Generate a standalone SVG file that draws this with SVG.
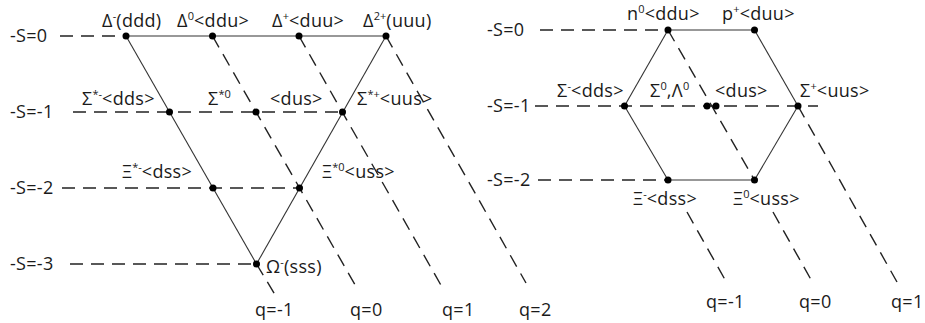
<svg xmlns="http://www.w3.org/2000/svg" width="925" height="323" viewBox="0 0 925 323">
<style>
.t{font-family:"Open Sans","Liberation Sans",sans-serif;font-size:18px;letter-spacing:0.3px;fill:#1a1a1a}
.sup{font-size:11px;baseline-shift:super;letter-spacing:0}
.s{stroke:#333;stroke-width:1.1;fill:none}
.d{stroke:#222;stroke-width:1.4;fill:none;stroke-dasharray:13 8}
.dot{fill:#000}
</style>
<rect width="925" height="323" fill="#fff"/>
<g id="connectors">
<line class="s" x1="126" y1="36" x2="386" y2="36"/>
<line class="s" x1="126" y1="36" x2="256.5" y2="264"/>
<line class="s" x1="386" y1="36" x2="256.5" y2="264"/>
<line class="d" x1="60" y1="36" x2="126" y2="36"/>
<line class="d" x1="73" y1="112" x2="342.5" y2="112"/>
<line class="d" x1="62" y1="188" x2="299.5" y2="188"/>
<line class="d" x1="70" y1="264" x2="256.5" y2="264"/>
<line class="d" x1="256.5" y1="264" x2="277" y2="298"/>
<line class="d" x1="212.5" y1="36" x2="358" y2="290"/>
<line class="d" x1="299" y1="36" x2="442" y2="287"/>
<line class="d" x1="386" y1="36" x2="526" y2="283"/>
<line class="s" x1="668" y1="30" x2="754.5" y2="30"/>
<line class="s" x1="754.5" y1="30" x2="798" y2="106"/>
<line class="s" x1="798" y1="106" x2="754.5" y2="180"/>
<line class="s" x1="754.5" y1="180" x2="668" y2="180"/>
<line class="s" x1="668" y1="180" x2="624.5" y2="106"/>
<line class="s" x1="624.5" y1="106" x2="668" y2="30"/>
<line class="d" x1="540" y1="30" x2="668" y2="30"/>
<line class="d" x1="535" y1="106" x2="818" y2="106"/>
<line class="d" x1="538" y1="180" x2="668" y2="180"/>
<line class="d" x1="687" y1="212" x2="728" y2="285"/>
<line class="d" x1="668" y1="30" x2="754.5" y2="180"/>
<line class="d" x1="773" y1="212" x2="814" y2="285"/>
<line class="d" x1="798" y1="106" x2="897" y2="282"/>
</g>
<g id="axis-labels">
<text class="t" x="10" y="42">-S=0</text>
<text class="t" x="10" y="118">-S=-1</text>
<text class="t" x="10" y="194">-S=-2</text>
<text class="t" x="10" y="270">-S=-3</text>
<text class="t" x="255" y="316">q=-1</text>
<text class="t" x="350" y="316">q=0</text>
<text class="t" x="442" y="316">q=1</text>
<text class="t" x="519" y="316">q=2</text>
<text class="t" x="487" y="36">-S=0</text>
<text class="t" x="487" y="112">-S=-1</text>
<text class="t" x="487" y="186">-S=-2</text>
<text class="t" x="706" y="308">q=-1</text>
<text class="t" x="799" y="308">q=0</text>
<text class="t" x="891" y="308">q=1</text>
</g>
<g id="delta-minus"><circle class="dot" cx="126" cy="36" r="3.5"/><text class="t" x="102" y="27">Δ<tspan class="sup">-</tspan>(ddd)</text></g>
<g id="delta-0"><circle class="dot" cx="212.5" cy="36" r="3.5"/><text class="t" x="177" y="27">Δ<tspan class="sup">0</tspan>&lt;ddu&gt;</text></g>
<g id="delta-plus"><circle class="dot" cx="299" cy="36" r="3.5"/><text class="t" x="272" y="27">Δ<tspan class="sup">+</tspan>&lt;duu&gt;</text></g>
<g id="delta-2plus"><circle class="dot" cx="386" cy="36" r="3.5"/><text class="t" x="363" y="27">Δ<tspan class="sup">2+</tspan>(uuu)</text></g>
<g id="sigma-star-minus"><circle class="dot" cx="169.5" cy="112" r="3.5"/><text class="t" x="82" y="105">Σ<tspan class="sup">*-</tspan>&lt;dds&gt;</text></g>
<g id="sigma-star-0"><circle class="dot" cx="256" cy="112" r="3.5"/><text class="t" x="208" y="105">Σ<tspan class="sup">*0</tspan></text><text class="t" x="270" y="105">&lt;dus&gt;</text></g>
<g id="sigma-star-plus"><circle class="dot" cx="342.5" cy="112" r="3.5"/><text class="t" x="357" y="105">Σ<tspan class="sup">*+</tspan>&lt;uus&gt;</text></g>
<g id="xi-star-minus"><circle class="dot" cx="213" cy="188" r="3.5"/><text class="t" x="122" y="178">Ξ<tspan class="sup">*-</tspan>&lt;dss&gt;</text></g>
<g id="xi-star-0"><circle class="dot" cx="299.5" cy="188" r="3.5"/><text class="t" x="322" y="178">Ξ<tspan class="sup">*0</tspan>&lt;uss&gt;</text></g>
<g id="omega-minus"><circle class="dot" cx="256.5" cy="264" r="3.5"/><text class="t" x="266" y="273">Ω<tspan class="sup">-</tspan>(sss)</text></g>
<g id="n0"><circle class="dot" cx="668" cy="30" r="3.5"/><text class="t" x="627" y="20">n<tspan class="sup">0</tspan>&lt;ddu&gt;</text></g>
<g id="p-plus"><circle class="dot" cx="754.5" cy="30" r="3.5"/><text class="t" x="722" y="20">p<tspan class="sup">+</tspan>&lt;duu&gt;</text></g>
<g id="sigma-minus"><circle class="dot" cx="624.5" cy="106" r="3.5"/><text class="t" x="557" y="97">Σ<tspan class="sup">-</tspan>&lt;dds&gt;</text></g>
<g id="sigma0-lambda0"><circle class="dot" cx="707" cy="106" r="3.5"/><text class="t" x="650" y="97">Σ<tspan class="sup">0</tspan>,Λ<tspan class="sup">0</tspan></text></g>
<g id="sigma-dus"><circle class="dot" cx="716" cy="106" r="3.5"/><text class="t" x="715" y="97">&lt;dus&gt;</text></g>
<g id="sigma-plus"><circle class="dot" cx="798" cy="106" r="3.5"/><text class="t" x="800" y="97">Σ<tspan class="sup">+</tspan>&lt;uus&gt;</text></g>
<g id="xi-minus"><circle class="dot" cx="668" cy="180" r="3.5"/><text class="t" x="633" y="205">Ξ<tspan class="sup">-</tspan>&lt;dss&gt;</text></g>
<g id="xi-0"><circle class="dot" cx="754.5" cy="180" r="3.5"/><text class="t" x="733" y="205">Ξ<tspan class="sup">0</tspan>&lt;uss&gt;</text></g>
</svg>
